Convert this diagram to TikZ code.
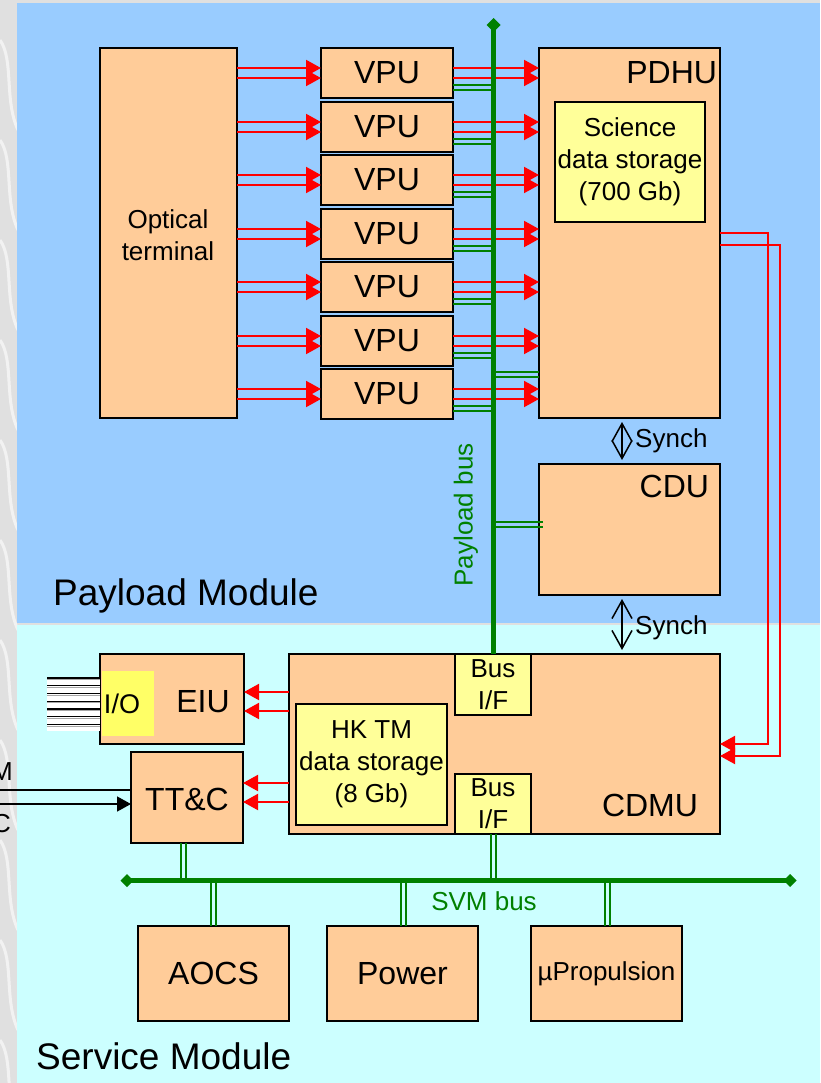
\documentclass[tikz,border=0pt]{standalone}
\usepackage{fontspec}
\setmainfont{Liberation Sans}
\usetikzlibrary{arrows.meta,shapes.geometric,calc}
\definecolor{orng}{HTML}{FFCC99}
\definecolor{pblue}{HTML}{99CCFF}
\definecolor{scyan}{HTML}{CCFFFF}
\definecolor{lyel}{HTML}{FFFF99}
\definecolor{ioyel}{HTML}{FFFF66}
\definecolor{grn}{HTML}{008000}
\definecolor{bgg}{HTML}{E0E0E0}
\tikzset{
  box/.style={draw=black, line width=1.6pt, fill=orng, inner sep=0pt, outer sep=0pt, anchor=north west, font=\fontsize{32}{36}\selectfont},
  ybox/.style={box, fill=lyel, font=\fontsize{26}{32}\selectfont, align=center},
  lbl/.style={inner sep=0pt, outer sep=0pt, font=\fontsize{32}{36}\selectfont},
  mlbl/.style={inner sep=0pt, outer sep=0pt, font=\fontsize{26}{32}\selectfont, align=center},
  redarr/.style={draw=red, line width=2pt, -{Triangle[length=15pt,width=16pt]}},
  blkarr/.style={draw=black, line width=1.5pt, -{Triangle[length=14pt,width=15pt]}},
  blkline/.style={draw=black, line width=1.5pt},
  gwire/.style={draw=grn, line width=2pt},
  busline/.style={draw=grn, line width=5pt},
  busend/.style={diamond, fill=grn, inner sep=0pt, outer sep=0pt, minimum width=14pt, minimum height=14pt},
  synch/.style={draw=black, line width=1.5pt, {Straight Barb[length=18pt,width=20pt]}-{Straight Barb[length=18pt,width=20pt]}, shorten <=4pt, shorten >=4pt},
}
\begin{document}
\begin{tikzpicture}[x=1pt,y=-1pt]
\useasboundingbox (0,0) rectangle (820,1083);
\clip (0,0) rectangle (820,1083);
% background
\fill[bgg] (0,0) rectangle (820,1083);
\foreach \k in {0,...,10} {
  \draw[white, line width=3pt, opacity=0.6] (0,40+\k*100) .. controls (14,60+\k*100) and (4,100+\k*100) .. (18,130+\k*100);
}
\fill[pblue] (17,3) rectangle (820,623);
\fill[scyan] (17,625) rectangle (820,1083);

% module labels
\node[inner sep=0pt, anchor=base west, font=\fontsize{37}{42}\selectfont] (plm) at (53,605) {Payload Module};
\node[inner sep=0pt, anchor=base west, font=\fontsize{37}{42}\selectfont] (svm) at (36,1069) {Service Module};

% payload boxes
\node[box, minimum width=137pt, minimum height=370pt] (ot) at (100,48) {};
\node[mlbl] (otl) at (168,235) {Optical\\terminal};
\foreach \i/\vy in {1/48,2/102,3/155,4/209,5/262,6/316,7/369} {
  \node[box, minimum width=132pt, minimum height=50pt] (v\i) at (321,\vy) {VPU};
}
\node[box, minimum width=181pt, minimum height=370pt] (pdhu) at (539,48) {};
\node[lbl, anchor=base east] (pdhul) at (717,84) {PDHU};
\node[ybox, minimum width=150pt, minimum height=120pt] (sci) at (555,102) {Science\\data storage\\(700 Gb)};
\node[box, minimum width=181pt, minimum height=131pt] (cdu) at (539,464) {};
\node[lbl, anchor=base east] (cdul) at (709,497) {CDU};

% service boxes
\node[box, minimum width=431pt, minimum height=180pt] (cdmu) at (289,654) {};
\node[lbl, anchor=base east] (cdmul) at (698,816) {CDMU};
\node[ybox, minimum width=76pt, minimum height=61pt] (bif1) at (455,654) {Bus\\I/F};
\node[ybox, minimum width=76pt, minimum height=60pt] (bif2) at (455,774) {Bus\\I/F};
\node[ybox, minimum width=151pt, minimum height=121pt] (hk) at (296,704) {HK TM\\data storage\\(8 Gb)};
\node[box, minimum width=144pt, minimum height=90pt] (eiu) at (100,654) {};
\fill[ioyel] (101.5,671) rectangle (154,736);
\node[lbl, anchor=base] (eiul) at (203,712) {EIU};
\node[inner sep=0pt, anchor=base, font=\fontsize{27}{30}\selectfont] (iol) at (122,713) {I/O};
\node[box, minimum width=112pt, minimum height=91pt] (ttc) at (131,752) {};
\node[lbl, anchor=base] (ttcl) at (187,810) {TT\&C};
\node[box, minimum width=151pt, minimum height=95pt] (aocs) at (138,926) {AOCS};
\node[box, minimum width=151pt, minimum height=95pt] (pow) at (327,926) {Power};
\node[box, minimum width=151pt, minimum height=95pt, font=\fontsize{26}{30}\selectfont] (prop) at (531,926) {µPropulsion};

% I/O lines
\fill[white] (47,677) rectangle (100,731);
\foreach \k in {0,...,6} {
  \draw[gray!70, line width=1pt] (47,679.5+\k*7.75) -- (100,679.5+\k*7.75);
  \draw[black, line width=1.3pt] (47,678+\k*7.75) -- (100,678+\k*7.75);
}

% payload bus
\node[busend] (pbt) at (493.5,25) {};
\coordinate (pg) at (493.5,374.5);
\coordinate (cg) at (493.5,524.5);
\foreach \i in {1,...,7} {
  \foreach \s in {5,-5} {
    \draw[redarr] ([yshift=\s*1pt]v\i.west -| ot.east) -- ([yshift=\s*1pt]v\i.west);
    \draw[redarr] ([yshift=\s*1pt]v\i.east) -- ([yshift=\s*1pt]v\i.east -| pdhu.west);
  }
  \foreach \s in {-12,-17} {
    \draw[gwire] ([yshift=\s*1pt]v\i.east) -- ([yshift=\s*1pt]v\i.east -| pbt);
  }
}
\foreach \s in {2.5,-2.5} {
  \draw[gwire] ([yshift=\s*1pt]pg) -- ([yshift=\s*1pt]pg -| pdhu.west);
  \draw[gwire] ([yshift=\s*1pt]cg) -- ([xshift=4pt,yshift=\s*1pt]cg -| cdu.west);
}
\draw[busline] (pbt.center) -- (pbt |- bif1.north);
\node[inner sep=0pt, rotate=90, text=grn, font=\fontsize{26}{30}\selectfont] (pbl) at (466,515) {Payload bus};

% synch arrows
\draw[synch] ([xshift=-7.5pt]pdhu.south) -- ([xshift=-7.5pt]cdu.north);
\draw[synch] ([xshift=-7.5pt]cdu.south) -- ([xshift=-7.5pt]cdu.south |- cdmu.north);
\node[inner sep=0pt, anchor=west, font=\fontsize{26}{30}\selectfont] (s1) at (635,441) {Synch};
\node[inner sep=0pt, anchor=west, font=\fontsize{26}{30}\selectfont] (s2) at (635,628) {Synch};

% PDHU to CDMU red lines
\coordinate (rx1) at (768,0);
\coordinate (rx2) at (780,0);
\draw[redarr] (pdhu.east) -| (rx1 |- cdmu.east) -- (cdmu.east);
\draw[redarr] ([yshift=-12pt]pdhu.east) -| ([yshift=-12pt]rx2 |- cdmu.east) -- ([yshift=-12pt]cdmu.east);

% CDMU to EIU / TT&C
\foreach \s in {7,-12} {
  \draw[redarr] ([yshift=\s*1pt]eiu.east -| cdmu.west) -- ([yshift=\s*1pt]eiu.east);
}
\foreach \s in {14.5,-4.5} {
  \draw[redarr] ([yshift=\s*1pt]ttc.east -| cdmu.west) -- ([yshift=\s*1pt]ttc.east);
}

% TM / TC
\coordinate (lx) at (0,0);
\draw[blkline] ([yshift=7.5pt]ttc.west) -- ([yshift=7.5pt]ttc.west -| lx);
\draw[blkarr] ([yshift=-6.5pt]ttc.west -| lx) -- ([yshift=-6.5pt]ttc.west);
\node[inner sep=0pt, anchor=base east, font=\fontsize{26}{30}\selectfont] (tml) at (13,780) {TM};
\node[inner sep=0pt, anchor=base east, font=\fontsize{26}{30}\selectfont] (tcl) at (11,832) {TC};

% SVM bus
\node[busend, minimum width=13pt, minimum height=13pt] (sbl) at (127,880.5) {};
\node[busend, minimum width=13pt, minimum height=13pt] (sbr) at (790,880.5) {};
\foreach \s in {-6,-1} {
  \draw[gwire] ([xshift=\s*1pt]ttc.south) -- ([xshift=\s*1pt]ttc.south |- sbl);
}
\foreach \s in {-2,3} {
  \draw[gwire] ([xshift=\s*1pt]bif2.south) -- ([xshift=\s*1pt]bif2.south |- sbl);
}
\foreach \s in {-2.5,2.5} {
  \draw[gwire] ([xshift=\s*1pt]aocs.north) -- ([xshift=\s*1pt]aocs.north |- sbl);
}
\foreach \s in {-1.5,3.5} {
  \draw[gwire] ([xshift=\s*1pt]pow.north) -- ([xshift=\s*1pt]pow.north |- sbl);
  \draw[gwire] ([xshift=\s*1pt]prop.north) -- ([xshift=\s*1pt]prop.north |- sbl);
}
\draw[busline] (sbl.center) -- (sbr.center);
\node[inner sep=0pt, text=grn, font=\fontsize{26}{30}\selectfont] (svml) at (484,901) {SVM bus};
\end{tikzpicture}
\end{document}
